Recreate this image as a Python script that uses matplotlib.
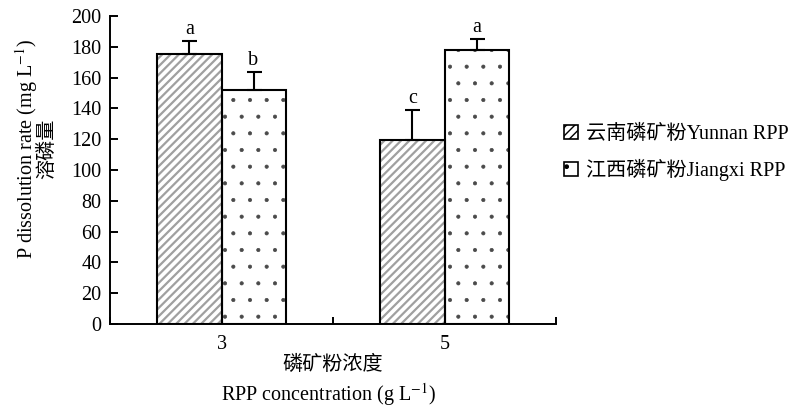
import matplotlib
matplotlib.use("Agg")
import matplotlib.pyplot as plt
import numpy as np

categories = ["3", "5"]
series_names = ["云南磷矿粉Yunnan RPP", "江西磷矿粉Jiangxi RPP"]
yunnan = [175.5, 119.2]
yunnan_err = [8.0, 20.0]
jiangxi = [152.1, 177.7]
jiangxi_err = [11.7, 7.2]
yunnan_letters = ["a", "c"]
jiangxi_letters = ["b", "a"]
yticks = [0, 20, 40, 60, 80, 100, 120, 140, 160, 180, 200]

fam = ["Liberation Serif", "Noto Sans CJK SC"]
plt.rcParams["font.family"] = fam
plt.rcParams["mathtext.fontset"] = "stix"
FS = 14.5

fig = plt.figure(figsize=(7.93, 4.08), dpi=100)
ax = fig.add_axes([110/793, (408-324)/408, (556-110)/793, (324-16)/408])

x = np.arange(len(categories))
w = 0.287

# hatched fills
with plt.rc_context({"hatch.linewidth": 1.6}):
    b1 = ax.bar(x - w/2, yunnan, w, color="white", edgecolor="#a0a0a0", hatch="////",
                linewidth=0, zorder=2)
with plt.rc_context({"hatch.linewidth": 0.5}):
    b2 = ax.bar(x + w/2, jiangxi, w, color="white", edgecolor="#4a4a4a", hatch=".",
                linewidth=0, zorder=2)
# outlines
ax.bar(x - w/2, yunnan, w, facecolor="none", edgecolor="black", linewidth=1.5, zorder=3)
ax.bar(x + w/2, jiangxi, w, facecolor="none", edgecolor="black", linewidth=1.5, zorder=3)

for xs, vals, errs, letters in [(x - w/2, yunnan, yunnan_err, yunnan_letters),
                                 (x + w/2, jiangxi, jiangxi_err, jiangxi_letters)]:
    ax.errorbar(xs, vals, yerr=[np.zeros(len(errs)), errs], fmt="none", ecolor="black",
                elinewidth=1.5, capsize=5.4, capthick=1.5, zorder=4)
    for xi, v, e, l in zip(xs, vals, errs, letters):
        ax.annotate(l, (xi, v + e), xytext=(0, 1.5), textcoords="offset points",
                    ha="center", va="bottom", fontsize=FS, family=fam)

ax.set_xlim(-0.5, 1.5)
ax.set_ylim(0, 200)
ax.set_yticks(yticks)
ax.set_xticks(x)
ax.set_xticklabels(categories)
ax.set_xticks([-0.5, 0.5, 1.5], minor=True)
ax.tick_params(axis="x", which="major", length=0, labelsize=FS, pad=8)
ax.tick_params(axis="x", which="minor", direction="in", length=5, width=1.4)
ax.tick_params(axis="y", direction="in", length=5.5, width=1.4, labelsize=FS, pad=6)
for s in ["top", "right"]:
    ax.spines[s].set_visible(False)
for s in ["left", "bottom"]:
    ax.spines[s].set_linewidth(1.4)

ax.text(-0.188, 0.57, "P dissolution rate (mg L$^{-1}$)", transform=ax.transAxes,
        rotation=90, ha="center", va="center", fontsize=FS, family=fam)
ax.text(-0.14, 0.57, "溶磷量", transform=ax.transAxes,
        rotation=90, ha="center", va="center", fontsize=FS, family=fam)
ax.text(0.5, -0.135, "磷矿粉浓度", transform=ax.transAxes,
        ha="center", va="center", fontsize=FS, family=fam)
ax.text(0.49, -0.228, "RPP concentration (g L$^{-1}$)", transform=ax.transAxes,
        ha="center", va="center", fontsize=FS, family=fam)

leg = fig.legend([b1, b2], series_names, loc="center left", bbox_to_anchor=(546/793, 1 - 153/408),
                 frameon=False, handlelength=0.7, handleheight=0.7,
                 handletextpad=0.4, labelspacing=0.75, prop={"family": fam, "size": FS})
for h in leg.legend_handles:
    h.set_linewidth(1.2)
    h.set_edgecolor("black")

fig.savefig("out.png", dpi=100)
